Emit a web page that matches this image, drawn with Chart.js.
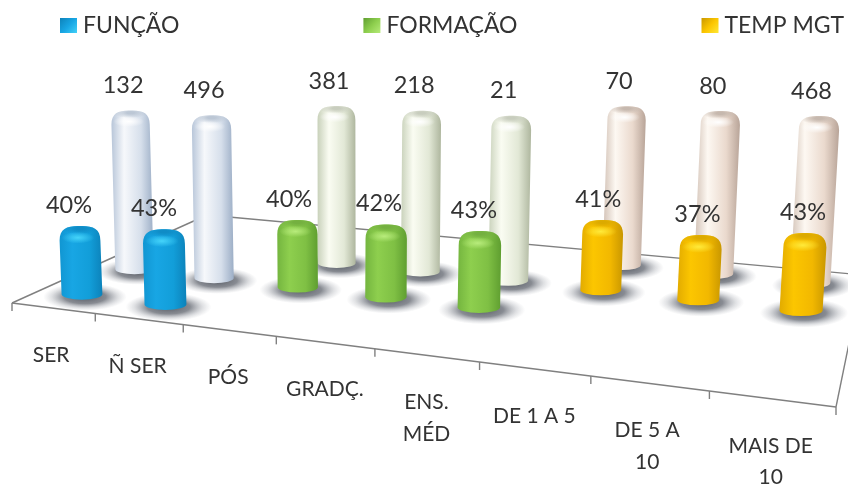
<!DOCTYPE html>
<html><head><meta charset="utf-8">
<style>html,body{margin:0;padding:0;background:#fff}canvas{display:block;filter:blur(0.5px)}</style>
<script src="https://cdn.jsdelivr.net/npm/chart.js@4/dist/chart.umd.js"></script>
</head><body><canvas id="c" width="848" height="489"></canvas>
<script>
// ---- data ----
const categories = ['SER','Ñ SER','PÓS','GRADÇ.',['ENS.','MÉD'],'DE 1 A 5',['DE 5 A','10'],['MAIS DE','10']];
const legendNames = ['FUNÇÃO','FORMAÇÃO','TEMP MGT'];
// four depth rows of the 3D chart, front to back
const row1Values = [40,43,null,null,null,null,null,null];
const row2Values = [100,100,40,42,43,null,null,null];
const row3Values = [null,null,100,100,100,41,37,43];
const row4Values = [null,null,null,null,null,100,100,100];
const row1Labels = ['40%','43%',null,null,null,null,null,null];
const row2Labels = ['132','496','40%','42%','43%',null,null,null];
const row3Labels = [null,null,'381','218','21','41%','37%','43%'];
const row4Labels = [null,null,null,null,null,'70','80','468'];
const BLUE='#12a5e0',GREEN='#84c444',AMBER='#f5bc00',PBLUE='#dce3ee',PGREEN='#e8eddc',PBEIGE='#eedfd4';
const row1Colors = [BLUE,BLUE,BLUE,BLUE,BLUE,BLUE,BLUE,BLUE];
const row2Colors = [PBLUE,PBLUE,GREEN,GREEN,GREEN,GREEN,GREEN,GREEN];
const row3Colors = [PGREEN,PGREEN,PGREEN,PGREEN,PGREEN,AMBER,AMBER,AMBER];
const row4Colors = [PBEIGE,PBEIGE,PBEIGE,PBEIGE,PBEIGE,PBEIGE,PBEIGE,PBEIGE];
const legendColors = [BLUE,GREEN,AMBER];
const allLabels = [row1Labels,row2Labels,row3Labels,row4Labels];

// ---- styling and projection ----
const PAL = {
 [BLUE]:  {s:['#1196d2','#18a6e4','#129ed9','#0c82ba'],cap:'#0f8cc6',glow:'#45d4fa',pale:false},
 [GREEN]: {s:['#74b53f','#8ecf4e','#7fc044','#5f9e30'],cap:'#74b040',glow:'#b8ec7c',pale:false},
 [AMBER]: {s:['#e2ab00','#fcc600','#f2b800','#c99700'],cap:'#dcaa00',glow:'#ffea3a',pale:false},
 [PBLUE]: {s:['#b8c6d9','#f6f8fb','#d6dfeb','#9caec6'],cap:'#bcc7d5',glow:'#ffffff',pale:true},
 [PGREEN]:{s:['#c8d1ba','#fafcf2','#e2e8d6','#aeb69e'],cap:'#c8cdbe',glow:'#ffffff',pale:true},
 [PBEIGE]:{s:['#d0bfb3','#fdf8f2','#ead9cd','#b8a498'],cap:'#c6b8ae',glow:'#ffffff',pale:true}
};
const FONT = 'Lato, "Open Sans", sans-serif';
const TEXT = '#333333';
const LINE = '#808080';
const corners = [[12,303],[836,407],[863,275],[207,215]]; // floor quad
const H = (()=>{
  const [[x0,y0],[x1,y1],[x2,y2],[x3,y3]] = corners;
  const dx1=x1-x2,dx2=x3-x2,sx=x0-x1+x2-x3,dy1=y1-y2,dy2=y3-y2,sy=y0-y1+y2-y3;
  const den=dx1*dy2-dx2*dy1;
  const g=(sx*dy2-dx2*sy)/den,h=(dx1*sy-sx*dy1)/den;
  return {a:x1-x0+g*x1,b:x3-x0+h*x3,c:x0,d:y1-y0+g*y1,e:y3-y0+h*y3,f:y0,g,h};
})();
function wOf(s,t){return H.g*s+H.h*t+1;}
function proj(s,t){const w=wOf(s,t);return {x:(H.a*s+H.b*t+H.c)/w,y:(H.d*s+H.e*t+H.f)/w,w};}
const FULL_HEIGHT = 167, RADIUS = 20.8, RY_RATIO = 0.26, VP_X = 350, VP_DIST = 8500, ROWS = 4;

function placeBar(chart,el,row){
  const xs=chart.scales.x, ys=chart.scales.y;
  const s=(el.x-xs.left)/xs.width, t=(row+.5)/ROWS;
  const p=proj(s,t);
  const hp=(ys.bottom-el.y)/ys.height*FULL_HEIGHT/p.w;
  const r=RADIUS/p.w;
  return {bx:p.x,by:p.y,tx:p.x+(p.x-VP_X)*hp/VP_DIST,ty:p.y-hp,r,ry:r*RY_RATIO};
}
class CylinderController extends Chart.BarController {
  draw(){
    const ctx=this.chart.ctx, meta=this.getMeta(), chart=this.chart, row=this.index;
    const items=[];
    meta.data.forEach((el,i)=>{
      const v=this.getParsed(i).y;
      if(v===null||isNaN(v))return;
      items.push({g:placeBar(chart,el,row),pal:PAL[el.options.backgroundColor]});
    });
    items.forEach(({g})=>{
      ctx.save();
      ctx.translate(g.bx+3,g.by+2.5);
      ctx.scale(1,0.33);
      const R=g.r*2.05;
      const rg=ctx.createRadialGradient(0,0,0,0,0,R);
      rg.addColorStop(0,'rgba(70,75,85,.9)');
      rg.addColorStop(.5,'rgba(85,90,100,.7)');
      rg.addColorStop(.8,'rgba(130,135,145,.25)');
      rg.addColorStop(1,'rgba(150,155,165,0)');
      ctx.fillStyle=rg;
      ctx.beginPath();ctx.arc(0,0,R,0,Math.PI*2);ctx.fill();
      ctx.restore();
    });
    items.forEach(({g,pal})=>{
      const {bx,by,tx,ty,r,ry}=g;
      ctx.save();
      ctx.beginPath();
      ctx.moveTo(bx-r,by);
      ctx.lineTo(tx-r,ty+9);
      ctx.bezierCurveTo(tx-r,ty-ry+3,tx-r*.65,ty-ry,tx-r*.1,ty-ry);
      ctx.lineTo(tx+r*.1,ty-ry);
      ctx.bezierCurveTo(tx+r*.65,ty-ry,tx+r,ty-ry+3,tx+r,ty+9);
      ctx.lineTo(bx+r,by);
      ctx.ellipse(bx,by,r,ry,0,0,Math.PI);
      ctx.closePath();
      const lg=ctx.createLinearGradient(Math.min(bx,tx)-r,0,Math.max(bx,tx)+r,0);
      lg.addColorStop(0,pal.s[0]);lg.addColorStop(.3,pal.s[1]);
      lg.addColorStop(.7,pal.s[2]);lg.addColorStop(1,pal.s[3]);
      ctx.fillStyle=lg;ctx.fill();
      ctx.clip();
      // top face, fading out at its rim
      ctx.save();
      ctx.translate(tx,ty-ry*.55);ctx.scale(1,.3);
      const cp=ctx.createRadialGradient(0,0,r*.2,0,0,r*.95);
      cp.addColorStop(0,pal.cap);
      cp.addColorStop(1,pal.cap+'00');
      ctx.fillStyle=cp;ctx.beginPath();ctx.arc(0,0,r*.95,0,Math.PI*2);ctx.fill();
      ctx.restore();
      // soft highlight under the cap
      ctx.save();
      ctx.translate(tx-r*.1,ty+ry+1);ctx.scale(1,.36);
      const gl=ctx.createRadialGradient(0,0,0,0,0,r*.8);
      gl.addColorStop(0,pal.glow);
      gl.addColorStop(1,pal.glow+'00');
      ctx.fillStyle=gl;ctx.beginPath();ctx.arc(0,0,r*.8,0,Math.PI*2);ctx.fill();
      ctx.restore();
      ctx.restore();
    });
  }
}
CylinderController.id='cylinder';
CylinderController.defaults=Chart.BarController.defaults;
CylinderController.overrides=Chart.BarController.overrides;
Chart.register(CylinderController);

function line(ctx,a,b){ctx.beginPath();ctx.moveTo(a.x,a.y);ctx.lineTo(b.x,b.y);ctx.stroke();}
const floorPlugin={id:'floor',beforeDatasetsDraw(chart){
  const ctx=chart.ctx;ctx.save();ctx.strokeStyle=LINE;ctx.lineWidth=1.4;
  line(ctx,proj(0,0),proj(1,0));line(ctx,proj(0,0),proj(0,1));
  line(ctx,proj(0,1),proj(1,1));line(ctx,proj(1,0),proj(1,1));
  const n=chart.data.labels.length;
  for(let i=0;i<=n;i++){const p=proj(i/n,0);line(ctx,p,{x:p.x,y:p.y+8});}
  ctx.restore();
}};
const labelNudge=[-2,-1,-1,0,0,0,-2,-1];
const textPlugin={id:'texts',afterDatasetsDraw(chart){
  const ctx=chart.ctx;ctx.save();
  ctx.textAlign='center';ctx.textBaseline='middle';ctx.fillStyle=TEXT;
  // value labels
  ctx.font='23.5px '+FONT;
  chart.data.datasets.forEach((ds,row)=>{
    const meta=chart.getDatasetMeta(row);
    meta.data.forEach((el,i)=>{
      const txt=allLabels[row][i]; if(txt==null)return;
      const g=placeBar(chart,el,row);
      const pale=PAL[el.options.backgroundColor].pale;
      const dx=pale?-7.5:-12+.0125*g.tx;
      ctx.fillText(txt,g.tx+dx,g.ty-g.ry-(pale?25:21));
    });
  });
  // category labels along the front edge of the floor
  ctx.font='21px '+FONT;
  const n=chart.data.labels.length;
  chart.data.labels.forEach((lab,i)=>{
    const p=proj((i+.5)/n,0);
    [].concat(lab).forEach((ln,k)=>ctx.fillText(ln,p.x+labelNudge[i],p.y+47+k*31.5));
  });
  // legend
  ctx.textAlign='left';ctx.font='23px '+FONT;
  let x=60;const y=26;
  legendNames.forEach((name,i)=>{
    const pal=PAL[legendColors[i]];
    const lg=ctx.createLinearGradient(x,y-8,x+17,y+8);
    lg.addColorStop(0,pal.s[3]);lg.addColorStop(.5,pal.s[1]);lg.addColorStop(1,pal.glow);
    ctx.fillStyle=lg;ctx.fillRect(x,y-8,17,15);
    ctx.fillStyle=TEXT;
    ctx.fillText(name,x+23,y);
    x+=23+ctx.measureText(name).width+184;
  });
  ctx.restore();
}};
new Chart(document.getElementById('c'),{
  type:'cylinder',
  data:{labels:categories,datasets:[
    {label:'Linha 1',data:row1Values,backgroundColor:row1Colors},
    {label:'Linha 2',data:row2Values,backgroundColor:row2Colors},
    {label:'Linha 3',data:row3Values,backgroundColor:row3Colors},
    {label:'Linha 4',data:row4Values,backgroundColor:row4Colors}
  ]},
  options:{
    responsive:false,animation:false,events:[],grouped:false,
    layout:{padding:0},
    plugins:{legend:{display:false},tooltip:{enabled:false},title:{display:false}},
    scales:{
      x:{display:true,grid:{display:false},border:{display:false},ticks:{display:false}},
      y:{display:false,min:2.5,max:100}
    }
  },
  plugins:[floorPlugin,textPlugin]
});
</script></body></html>
